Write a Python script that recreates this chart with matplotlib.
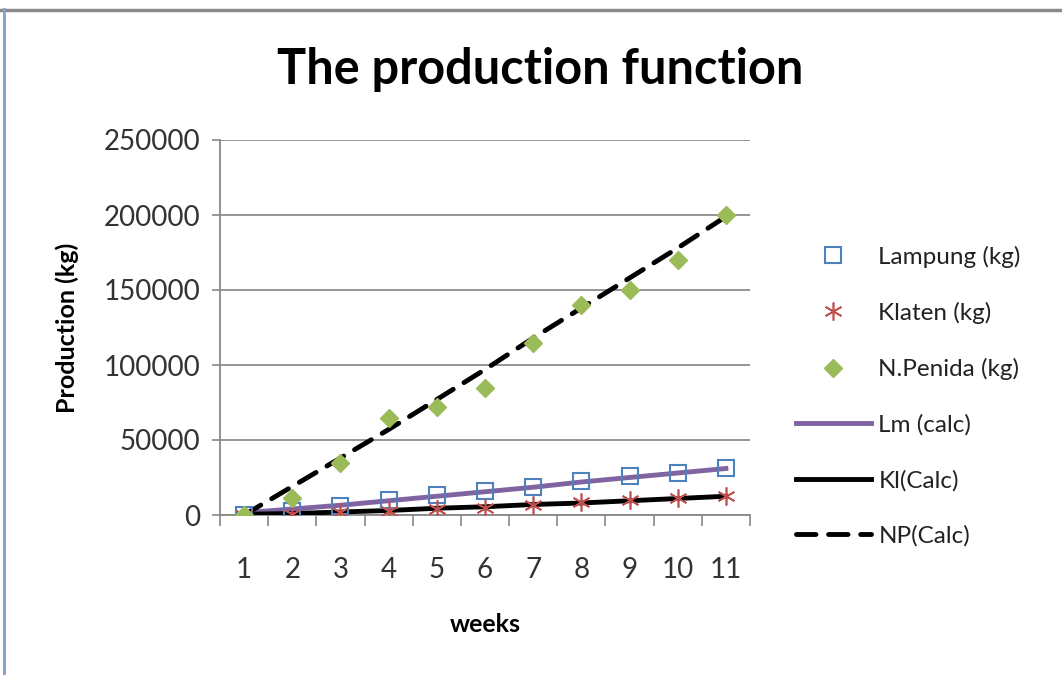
import matplotlib.pyplot as plt
from matplotlib.lines import Line2D
import numpy as np

# weeks on the x axis
weeks = [1, 2, 3, 4, 5, 6, 7, 8, 9, 10, 11]

# observed production (kg)
lampung = [0, 3000, 6300, 10000, 13300, 16000, 19000, 23000, 26000, 28000, 31500]
klaten = [0, 500, 2000, 3000, 4000, 5000, 7000, 8500, 10000, 11500, 12500]
penida = [0, 11500, 35000, 65000, 72000, 85000, 115000, 140000, 150000, 170000, 200000]

# calculated curves
lm_calc = [1500, 4000, 6500, 9500, 12500, 15500, 18500, 22000, 25000, 28000, 31000]
kl_calc = [500, 1000, 2000, 3000, 4500, 5500, 7000, 8000, 9500, 11000, 12500]
np_calc = [0, 19000, 38000, 57000, 77000, 97000, 118000, 138000, 158000, 178000, 199000]

plt.rcParams['font.family'] = ['Lato', 'DejaVu Sans']

fig = plt.figure(figsize=(10.62, 6.75), dpi=100)
ax = fig.add_axes([220 / 1062, 1 - 515 / 675, 530 / 1062, 375 / 675])

ax.plot(weeks, lm_calc, color='#8064A2', lw=3.5, zorder=3, label='Lm (calc)')
ax.plot(weeks, kl_calc, color='black', lw=3.5, zorder=3, label='Kl(Calc)')
ax.plot(weeks, np_calc, color='black', lw=3.5, ls=(0, (4, 2.6)),
        dash_capstyle='round', zorder=3, label='NP(Calc)')

ax.plot(weeks, lampung, ls='none', marker='s', ms=11, mfc='none', mec='#4F81BD',
        mew=1.5, zorder=4, label='Lampung (kg)')
ax.plot(weeks, klaten, ls='none', marker=(6, 2, 0), ms=13, mec='#C0504D',
        mew=1.2, zorder=4, label='Klaten (kg)')
ax.plot(weeks, penida, ls='none', marker='D', ms=9, color='#9BBB59',
        zorder=4, label='N.Penida (kg)')

ax.set_xlim(0.5, 11.5)
ax.set_ylim(0, 250000)
ax.set_yticks(np.arange(0, 250001, 50000))
ax.set_yticklabels([str(v) for v in range(0, 250001, 50000)])
ax.set_xticks(weeks)
ax.set_xticks(np.arange(0.5, 11.6, 1), minor=True)
ax.tick_params(axis='x', which='major', length=0, pad=30, labelsize=20)
ax.tick_params(axis='x', which='minor', length=8, color='#888888', width=1.2)
ax.tick_params(axis='y', length=6, color='#888888', width=1.2, labelsize=20, pad=8,
               labelcolor='#333333')
ax.tick_params(axis='x', labelcolor='#333333')

ax.grid(axis='y', color='#8c8c8c', lw=1.3)
ax.set_axisbelow(True)
for s in ['top', 'right']:
    ax.spines[s].set_visible(False)
for s in ['left', 'bottom']:
    ax.spines[s].set_color('#888888')
    ax.spines[s].set_linewidth(1.3)

ax.set_xlabel('weeks', fontsize=18, fontweight='bold', labelpad=22)
ax.set_ylabel('Production (kg)', fontsize=18, fontweight='bold', labelpad=18)
fig.text(540 / 1062, 1 - 70 / 675, 'The production function', fontsize=35,
         fontweight='bold', ha='center', va='center')

handles, labels = ax.get_legend_handles_labels()
order = [3, 4, 5, 0, 1, 2]
leg = fig.legend([handles[i] for i in order], [labels[i] for i in order],
                 loc='upper left', bbox_to_anchor=(786 / 1062, 1 - 236 / 675),
                 frameon=False, fontsize=17.5, labelspacing=1.4, handlelength=3.1,
                 handletextpad=0.3, borderaxespad=0)
for t in leg.get_texts():
    t.set_color('#222222')

# window frame edges
fig.add_artist(Line2D([0, 1], [1 - 10 / 675, 1 - 10 / 675], color='#8a8a8a', lw=2.5))
fig.add_artist(Line2D([4 / 1062, 4 / 1062], [0, 1 - 9 / 675], color='#7f9fd0', lw=2))

fig.savefig('out.png', dpi=100)
